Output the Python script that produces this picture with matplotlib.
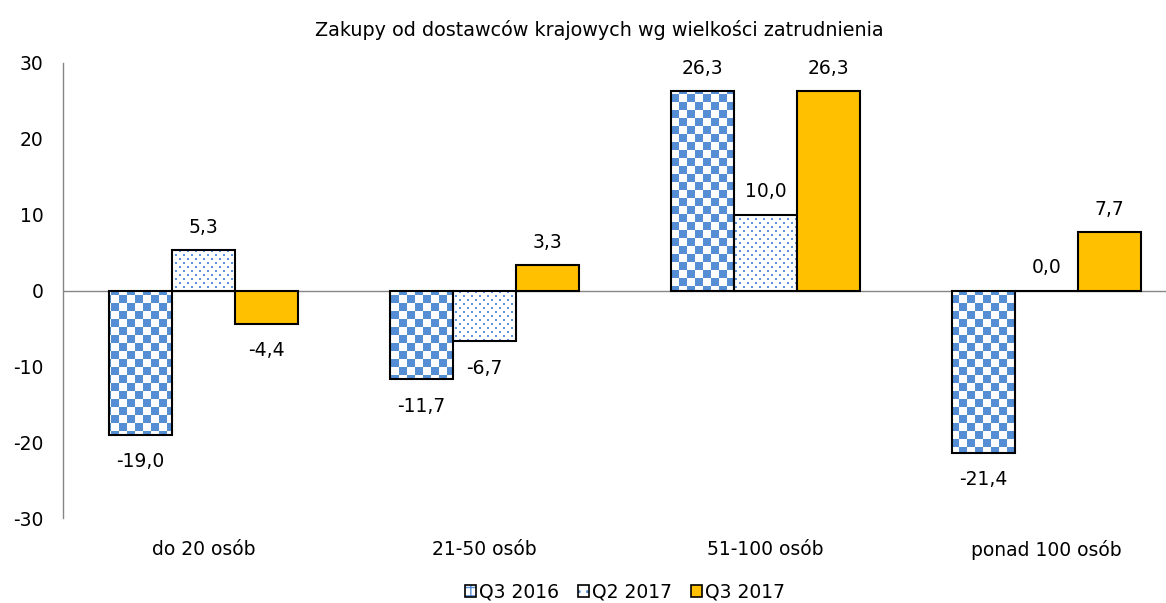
import numpy as np
import matplotlib.pyplot as plt
from matplotlib.patches import Patch
from matplotlib.legend_handler import HandlerTuple

# Dane
kategorie = ['do 20 osób', '21-50 osób', '51-100 osób', 'ponad 100 osób']
serie = ['Q3 2016', 'Q2 2017', 'Q3 2017']
q3_2016 = [-19.0, -11.7, 26.3, -21.4]
q2_2017 = [5.3, -6.7, 10.0, 0.0]
q3_2017 = [-4.4, 3.3, 26.3, 7.7]
tytul = 'Zakupy od dostawców krajowych wg wielkości zatrudnienia'

niebieski = '#558ED5'
zolty = '#FFC000'
szary = '#868686'

plt.rcParams['font.family'] = ['DejaVu Sans']
plt.rcParams['axes.unicode_minus'] = False

W, H = 1166, 603
fig = plt.figure(figsize=(W / 100, H / 100), dpi=100)
ax_l, ax_t, ax_w, ax_h = 63, 63, 1124, 455
ax = fig.add_axes([ax_l / W, 1 - (ax_t + ax_h) / H, ax_w / W, ax_h / H])

# Tekstury w pikselach osi: szachownica i kropki
yy, xx = np.mgrid[0:ax_h, 0:ax_w]
rgb_nieb = np.array([0x55, 0x8E, 0xD5]) / 255
rgb_kropki = np.array([0x5F, 0x95, 0xDC]) / 255

szach = np.ones((ax_h, ax_w, 3))
maska = ((xx // 8) + (yy // 8)) % 2 == 0
szach[maska] = rgb_nieb

kropki = np.ones((ax_h, ax_w, 3))
wiersz = yy // 4
maska2 = (yy % 4 < 2) & (((xx + (wiersz % 2) * 4) % 8) < 2)
kropki[maska2] = rgb_kropki

x = np.arange(len(kategorie))
szer = 0.224


def slupki(wartosci, przesuniecie, tekstura=None, kolor='none'):
    bars = ax.bar(x + przesuniecie, wartosci, szer, facecolor=kolor,
                  edgecolor='black', linewidth=1.5, zorder=3)
    if tekstura is not None:
        for b in bars:
            im = ax.imshow(tekstura, extent=[0, 1, 0, 1], transform=ax.transAxes,
                           aspect='auto', interpolation='nearest', zorder=2)
            im.set_clip_path(b)
    for b, v in zip(bars, wartosci):
        dy = 23 if v >= 0 else -27
        ax.annotate(f'{v:.1f}'.replace('.', ','),
                    (b.get_x() + b.get_width() / 2, v),
                    xytext=(0, dy * 0.72), textcoords='offset points',
                    ha='center', va='center', fontsize=13.5)
    return bars


slupki(q3_2016, -szer, szach)
slupki(q2_2017, 0, kropki)
slupki(q3_2017, szer, kolor=zolty)

ax.axhline(0, color=szary, linewidth=1, zorder=1)
ax.set_xlim(-0.5, len(kategorie) - 0.5)
ax.set_ylim(-30, 30)
ax.set_yticks(np.arange(-30, 31, 10))
ax.set_xticks(x)
ax.set_xticklabels(kategorie)
ax.tick_params(axis='x', length=0, pad=16, labelsize=13.5)
ax.tick_params(axis='y', length=0, pad=14, labelsize=13.5)
for s in ['top', 'right', 'bottom']:
    ax.spines[s].set_visible(False)
ax.spines['left'].set_color(szary)
ax.spines['left'].set_linewidth(1)

fig.text(599 / W, 1 - 30 / H, tytul, ha='center', va='center', fontsize=13.8)

uchwyty = [
    (Patch(facecolor='white', edgecolor=niebieski, hatch='++', linewidth=0),
     Patch(fill=False, edgecolor='black', linewidth=1.2)),
    (Patch(facecolor='white', edgecolor=niebieski, hatch='..', linewidth=0),
     Patch(fill=False, edgecolor='black', linewidth=1.2)),
    (Patch(facecolor=zolty, edgecolor='none'),
     Patch(fill=False, edgecolor='black', linewidth=1.2)),
]
fig.legend(uchwyty, serie, handler_map={tuple: HandlerTuple(ndivide=1)},
           loc='center', bbox_to_anchor=(625 / W, 1 - 592 / H), ncol=3,
           frameon=False, fontsize=13.5, handlelength=0.6, handleheight=0.6,
           handletextpad=0.15, columnspacing=1.0, borderpad=0.1)

fig.savefig('out.png', dpi=100)
